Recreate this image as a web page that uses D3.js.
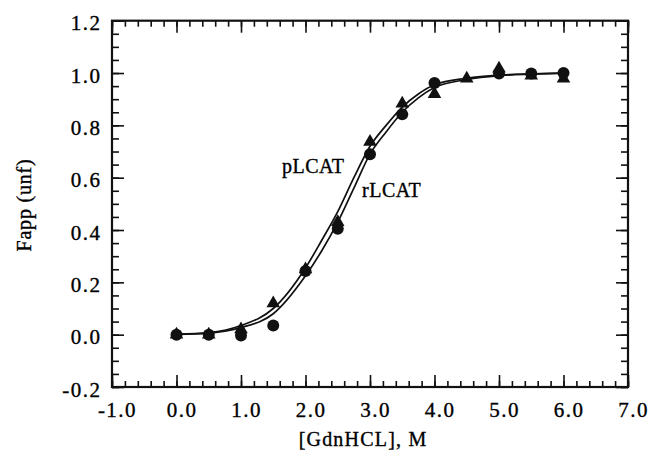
<!DOCTYPE html>
<html>
<head>
<meta charset="utf-8">
<script src="https://cdn.jsdelivr.net/npm/d3@7"></script>
<style>
  body { margin: 0; background: #fff; }
  text { font-family: "Liberation Serif", "Times New Roman", serif; fill: #000; stroke: #000; stroke-width: 0.35px; }
</style>
</head>
<body>
<script>
// measured points, [GdnHCl] (M) vs Fapp
var pX = [0.0, 0.5, 1.0, 1.5, 2.0, 2.5, 3.0, 3.5, 4.0, 4.5, 5.0, 5.5, 6.0];
var pY = [0.0, 0.0, 0.02, 0.12, 0.25, 0.43, 0.737, 0.883, 0.92, 0.979, 1.017, 0.99, 0.979];
var rX = [0.0, 0.5, 1.0, 1.5, 2.0, 2.5, 3.0, 3.5, 4.0, 5.0, 5.5, 6.0];
var rY = [0.0, 0.0, -0.003, 0.035, 0.243, 0.405, 0.69, 0.842, 0.962, 0.998, 0.998, 1.0];

// fitted curves
var fitX  = [0, 0.5, 1.0, 1.5, 2.0, 2.25, 2.5, 2.75, 3.0, 3.25, 3.5, 3.75, 4.0, 4.5, 5.0, 5.5, 6.0];
var pFitY = [0.002, 0.008, 0.035, 0.10, 0.255, 0.36, 0.47, 0.60, 0.72, 0.80, 0.87, 0.92, 0.955, 0.98, 0.992, 0.997, 1.0];
var rFitY = [0.001, 0.006, 0.027, 0.08, 0.225, 0.32, 0.43, 0.56, 0.69, 0.775, 0.85, 0.905, 0.945, 0.975, 0.99, 0.996, 1.0];

var xTicks = [-1, 0, 1, 2, 3, 4, 5, 6, 7];
var xTickLabels = ["-1.0", "0.0", "1.0", "2.0", "3.0", "4.0", "5.0", "6.0", "7.0"];
var yTicks = [-0.2, 0, 0.2, 0.4, 0.6, 0.8, 1.0, 1.2];
var yTickLabels = ["-0.2", "0.0", "0.2", "0.4", "0.6", "0.8", "1.0", "1.2"];

// plot box (window.top is reserved, so prefixed names)
var boxL = 112, boxR = 628, boxT = 20.7, boxB = 387;

var svg = d3.select("body").append("svg")
    .attr("width", 652)
    .attr("height", 454);

var x = d3.scaleLinear().domain([-1, 7]).range([boxL, boxR]);
var y = d3.scaleLinear().domain([-0.2, 1.2]).range([boxB, boxT]);

var xMinor = d3.range(-1, 7.001, 0.2);
var yMinor = d3.range(-0.2, 1.2001, 0.05);

function styleAxis(g) {
    g.select(".domain").remove();
    g.selectAll(".tick line").attr("stroke", "#111").attr("stroke-width", 1.6);
}

// minor ticks, all four sides
svg.append("g").attr("transform", "translate(0," + boxB + ")")
    .call(d3.axisBottom(x).tickValues(xMinor).tickSize(-6).tickFormat(""))
    .call(styleAxis);
svg.append("g").attr("transform", "translate(0," + boxT + ")")
    .call(d3.axisTop(x).tickValues(xMinor).tickSize(-6).tickFormat(""))
    .call(styleAxis);
svg.append("g").attr("transform", "translate(" + boxL + ",0)")
    .call(d3.axisLeft(y).tickValues(yMinor).tickSize(-7).tickFormat(""))
    .call(styleAxis);
svg.append("g").attr("transform", "translate(" + boxR + ",0)")
    .call(d3.axisRight(y).tickValues(yMinor).tickSize(-7).tickFormat(""))
    .call(styleAxis);

// major ticks
var gX = svg.append("g").attr("transform", "translate(0," + boxB + ")")
    .call(d3.axisBottom(x).tickValues(xTicks).tickSize(-12).tickPadding(15)
        .tickFormat(function (d, i) { return xTickLabels[i]; }))
    .call(styleAxis);
gX.selectAll("text")
    .attr("dx", 5)
    .style("font-size", "21px")
    .style("letter-spacing", "1.5px")
    .attr("fill", "#000");

svg.append("g").attr("transform", "translate(0," + boxT + ")")
    .call(d3.axisTop(x).tickValues(xTicks).tickSize(-12).tickFormat(""))
    .call(styleAxis);

var gY = svg.append("g").attr("transform", "translate(" + boxL + ",0)")
    .call(d3.axisLeft(y).tickValues(yTicks).tickSize(-12).tickPadding(10.5)
        .tickFormat(function (d, i) { return yTickLabels[i]; }))
    .call(styleAxis);
gY.selectAll("text")
    .attr("dy", "0.43em")
    .style("font-size", "21px")
    .style("letter-spacing", "1.5px")
    .attr("fill", "#000");

svg.append("g").attr("transform", "translate(" + boxR + ",0)")
    .call(d3.axisRight(y).tickValues(yTicks).tickSize(-12).tickFormat(""))
    .call(styleAxis);

// frame
svg.append("rect")
    .attr("x", boxL)
    .attr("y", boxT)
    .attr("width", boxR - boxL)
    .attr("height", boxB - boxT)
    .attr("fill", "none")
    .attr("stroke", "#111")
    .attr("stroke-width", 2.2);

// fit lines
var line = d3.line().curve(d3.curveMonotoneX);
svg.append("path")
    .attr("d", line(fitX.map(function (d, i) { return [x(d), y(pFitY[i])]; })))
    .attr("fill", "none").attr("stroke", "#111").attr("stroke-width", 1.7);
svg.append("path")
    .attr("d", line(fitX.map(function (d, i) { return [x(d), y(rFitY[i])]; })))
    .attr("fill", "none").attr("stroke", "#111").attr("stroke-width", 1.7);

// markers
var tri = d3.symbol().type(d3.symbolTriangle).size(80);
svg.selectAll(".tri")
    .data(pX)
  .enter().append("path")
    .attr("class", "tri")
    .attr("d", tri)
    .attr("transform", function (d, i) { return "translate(" + x(d) + "," + y(pY[i]) + ")"; })
    .attr("fill", "#111");

svg.selectAll(".dot")
    .data(rX)
  .enter().append("circle")
    .attr("class", "dot")
    .attr("r", 6)
    .attr("cx", function (d) { return x(d); })
    .attr("cy", function (d, i) { return y(rY[i]); })
    .attr("fill", "#111");

// curve labels
svg.append("text")
    .attr("x", 282).attr("y", 173)
    .style("font-size", "20px")
    .style("letter-spacing", "0.5px")
    .text("pLCAT");
svg.append("text")
    .attr("x", 362).attr("y", 197)
    .style("font-size", "20px")
    .style("letter-spacing", "0.5px")
    .text("rLCAT");

// axis titles
svg.append("text")
    .attr("x", 363).attr("y", 446)
    .style("text-anchor", "middle")
    .style("font-size", "20px")
    .style("letter-spacing", "1.2px")
    .text("[GdnHCL], M");

svg.append("text")
    .attr("transform", "translate(31,205) rotate(-90)")
    .style("text-anchor", "middle")
    .style("font-size", "20px")
    .style("letter-spacing", "0.8px")
    .text("Fapp (unf)");
</script>
</body>
</html>
